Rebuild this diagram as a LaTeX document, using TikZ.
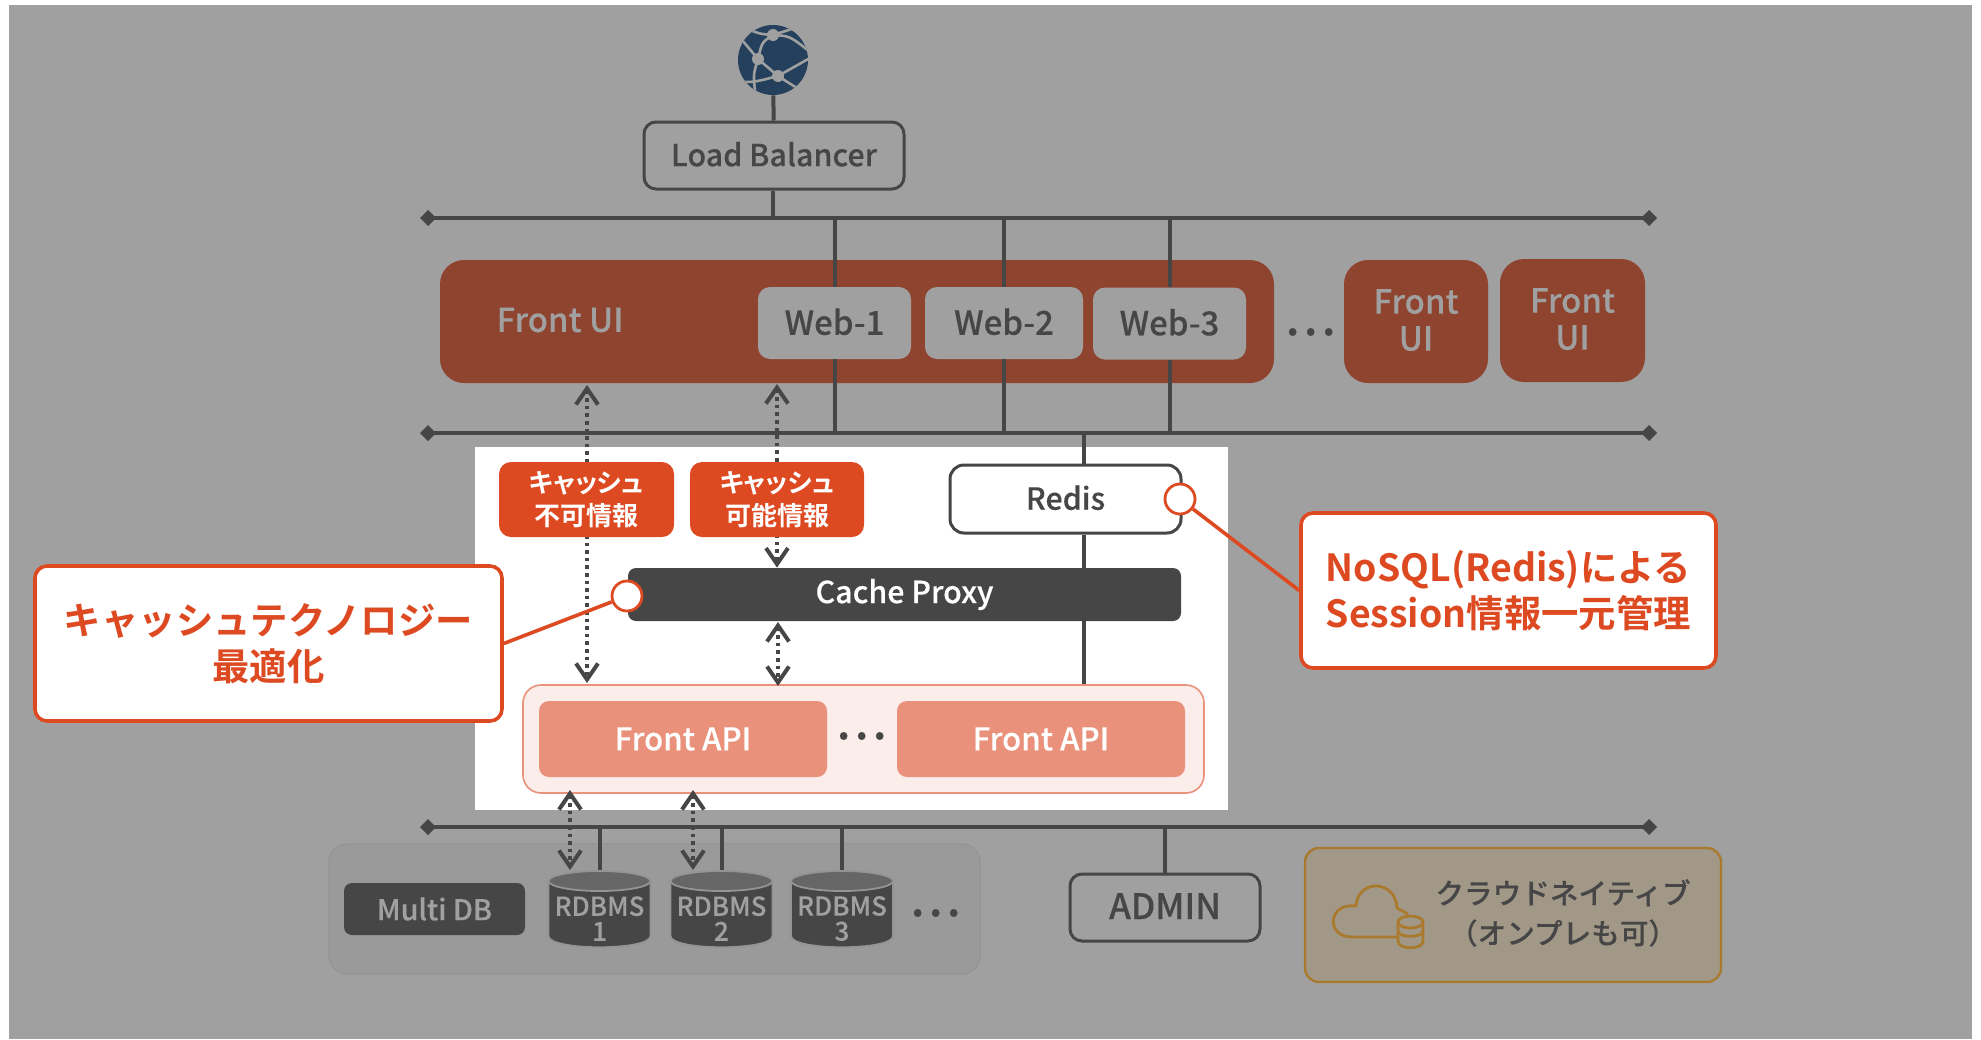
\documentclass[tikz,border=0pt]{standalone}
\usepackage{fontspec}
\setmainfont{Noto Sans CJK JP Medium}[BoldFont={Noto Sans CJK JP Bold},UprightFeatures={FakeBold=0.2}]
\newfontfamily\tagfont[RawFeature=+palt]{Noto Sans CJK JP Bold}
\usepackage{xcolor}
\usetikzlibrary{arrows.meta}
\definecolor{dim}{HTML}{A0A0A0}
\definecolor{ink}{HTML}{464646}
\definecolor{rust}{HTML}{8F4430}
\definecolor{flame}{HTML}{DD4A22}
\definecolor{salmon}{HTML}{E9917A}
\definecolor{blush}{HTML}{FBEDEA}
\definecolor{ochre}{HTML}{A97A2E}
\definecolor{navy}{HTML}{24405C}
\tikzset{
    pxbox/.style 2 args={minimum width=#1*0.5pt, minimum height=#2*0.5pt, inner sep=0pt, align=center},
    txt/.style={font=\fontsize{#1}{18.5}\selectfont},
    outlined/.style={draw=ink, line width=1.5pt, rounded corners=6pt, text=ink, txt=15.2, text depth=1.4pt},
    rustbox/.style={fill=rust, rounded corners=12pt, text=dim, txt=16.5, text depth=1.6pt},
    webbox/.style={fill=dim, rounded corners=6pt, text=ink, txt=16.5, text depth=1.4pt},
    cachetag/.style={fill=flame, rounded corners=6pt, text=white, font=\tagfont\fontsize{13}{16.3}\selectfont},
    apibox/.style={fill=salmon, rounded corners=5pt, text=white, txt=15.6},
    callout/.style={draw=flame, line width=1.8pt, fill=white, rounded corners=6pt, text=flame, font=\bfseries\fontsize{18.7}{23}\selectfont},
    spot/.style={circle, draw=flame, line width=1.4pt, fill=white, minimum size=15pt, inner sep=0pt},
    wire/.style={ink, line width=2pt},
    bus/.style={ink, line width=2pt, {Diamond[length=8pt,width=8pt]}-{Diamond[length=8pt,width=8pt]}},
    flow/.style={ink, line width=2pt, dash pattern=on 1.8pt off 2pt, {Straight Barb[length=8pt,width=11pt,line width=2pt]}-{Straight Barb[length=8pt,width=11pt,line width=2pt]}},
    more/.style={text=#1, font=\fontsize{24}{24}\selectfont, inner sep=0pt},
    dbbody/.style={draw=black!42, line width=0.9pt, fill=ink},
    dbtop/.style={draw=black!42, line width=0.9pt, fill=black!60},
    rdbmstext/.style={text=dim, align=center, inner sep=0pt, font=\fontsize{13}{12.5}\selectfont}
}
\begin{document}
\begin{tikzpicture}[x=0.5pt, y=-0.5pt]
    \useasboundingbox (0,0) rectangle (1981,1039);
    \fill[dim] (9,5) rectangle (1972,1039);

    % Globe
    \node[circle, fill=navy, minimum size=35pt, inner sep=0pt] (globe) at (773,60) {};
    \begin{scope}
        \clip (773,60) circle (35);
        \draw[dim, line width=1.3pt] (745,28) .. controls (760,34) .. (773,35)
            .. controls (790,36) .. (810,52);
        \draw[dim, line width=1.3pt] (773,35) .. controls (762,42) .. (758,59)
            .. controls (753,75) .. (756,98);
        \draw[dim, line width=1.3pt] (742,40) -- (758,59) -- (778,76) -- (810,58);
        \draw[dim, line width=1.3pt] (742,82) .. controls (755,82) .. (778,76) -- (800,90);
        \draw[dim, line width=1.3pt] (798,27) -- (773,35);
        \fill[dim] (773,35) circle (6) (758,59) circle (6) (778,76) circle (6);
    \end{scope}

    % Top of the network
    \node[outlined, pxbox={260}{67}] (balancer) at (774,155.5) {Load Balancer};
    \coordinate (bus1l) at (420,218);
    \coordinate (bus1r) at (1657,218);
    \coordinate (bus2l) at (420,433);
    \coordinate (bus2r) at (1657,433);
    \coordinate (bus3l) at (420,827);
    \coordinate (bus3r) at (1657,827);
    \draw[wire] (globe) -- (balancer);
    \draw[wire] (balancer.south -| globe) -- (globe |- bus1l);

    % Front UI row
    \node[rustbox, pxbox={834}{123}] (frontui) at (857,321.5) {};
    \node[text=dim, txt=16.5, inner sep=0pt] (frontuitext) at (560,320) {Front UI};
    \node[webbox, pxbox={153}{72}] (web1) at (834.5,323) {Web-1};
    \node[webbox, pxbox={158}{72}] (web2) at (1004,323) {Web-2};
    \node[webbox, pxbox={153}{72}] (web3) at (1169.5,323.5) {Web-3};
    \node[more=ink] (moreui) at (1310,332) {…};
    \node[rustbox, pxbox={144}{123}] (frontui2) at (1416,321.5) {Front\\UI};
    \node[rustbox, pxbox={145}{123}] (frontui3) at (1572.5,320.5) {Front\\UI};
    \foreach \w in {web1,web2,web3} {
        \draw[wire] (\w.north) -- (\w.north |- bus1l);
        \draw[wire] (\w.south) -- (\w.south |- bus2l);
    }
    \draw[bus] (bus1l) -- (bus1r);
    \draw[bus] (bus2l) -- (bus2r);

    % Cache area
    \fill[white] (475,447) rectangle (1228,810);
    \node[outlined, fill=white, pxbox={231}{68}, rounded corners=7pt] (redis) at (1065.5,499) {Redis};
    \node[fill=ink, rounded corners=4pt, text=white, txt=15.2, pxbox={553}{53}] (proxy) at (904.5,594.5) {Cache Proxy};
    \node[draw=salmon, line width=0.8pt, fill=blush, rounded corners=9pt, pxbox={681}{108}] (apigroup) at (863.5,739) {};
    \node[apibox, pxbox={288}{76}] (api1) at (683,739) {Front API};
    \node[apibox, pxbox={288}{76}] (api2) at (1041,739) {Front API};
    \node[more=ink] (moreapi) at (861,736) {…};

    \coordinate (sessionline) at (1084,433);
    \draw[wire] (sessionline) -- (sessionline |- redis.north);
    \draw[wire] (sessionline |- redis.south) -- (sessionline |- proxy.north);
    \draw[wire] (sessionline |- proxy.south) -- (sessionline |- apigroup.north);

    % Dotted flows
    \coordinate (flowa) at (587,385);
    \coordinate (flowb) at (777,384);
    \coordinate (flowc) at (778,622);
    \coordinate (flowd) at (570,790);
    \coordinate (flowe) at (693,790);
    \draw[flow] (flowa) -- (587,683);
    \draw[flow] (flowb) -- (flowb |- proxy.north);
    \draw[flow] (flowc) -- (778,686);

    \node[cachetag, pxbox={175}{75}] (nocache) at (586.5,499.5) {キャッシュ\\不可情報};
    \node[cachetag, pxbox={174}{75}] (cache) at (777,499.5) {キャッシュ\\可能情報};

    % Database row
    \node[draw=black!42, line width=0.7pt, fill=black!4!dim, rounded corners=9pt, pxbox={651}{130}] (dbgroup) at (654.5,909) {};
    \node[fill=ink, rounded corners=4pt, text=dim, txt=14.3, pxbox={181}{52}] (multidb) at (434.5,909) {Multi DB};
    \foreach \i/\x in {1/599.5,2/721.5,3/842} {
        \filldraw[dbbody] (\x-51,881) -- (\x-51,936) .. controls (\x-51,951) and (\x+51,951) .. (\x+51,936) -- (\x+51,881) -- cycle;
        \filldraw[dbtop] (\x,881) ellipse (51 and 10);
        \node[rdbmstext, pxbox={102}{76}] (db\i) at (\x,918.5) {RDBMS\\\i};
        \coordinate (dbtop\i) at (\x,870);
        \draw[wire] (dbtop\i |- bus3l) -- (dbtop\i);
    }
    \node[more=ink] (moredb) at (935,913) {…};
    \draw[bus] (bus3l) -- (bus3r);
    \draw[flow] (flowd) -- (570,870);
    \draw[flow] (flowe) -- (693,870);

    \node[outlined, txt=17.5, pxbox={190}{67}] (admin) at (1165,907.5) {ADMIN};
    \draw[wire] (admin.north) -- (admin.north |- bus3l);

    % Cloud note
    \node[draw=ochre, line width=1.2pt, fill=ochre!22!dim, rounded corners=7pt, pxbox={416}{134}] (cloudbox) at (1513,915) {};
    \node[text=ink, align=center, inner sep=0pt, font=\fontsize{14.3}{20}\selectfont] (cloudtext) at (1563,913) {クラウドネイティブ\\（オンプレも可）};
    \draw[ochre, line width=1.4pt, line join=round] (1397,937) -- (1352,937)
        .. controls (1325,937) and (1328,902) .. (1356,906)
        .. controls (1358,878) and (1396,880) .. (1397,908) -- (1408,914);
    \draw[ochre, line width=1.4pt] (1398,922) -- (1398,941)
        .. controls (1398,950) and (1423,950) .. (1423,941) -- (1423,922);
    \draw[ochre, line width=1.4pt] (1410.5,922) ellipse (12.5 and 6);
    \draw[ochre, line width=1.4pt] (1398,931) .. controls (1398,938) and (1423,938) .. (1423,931);

    % Callouts
    \node[spot] (proxyspot) at (627,596) {};
    \node[spot] (redisspot) at (1180,499) {};
    \node[callout, pxbox={467}{155}] (calloutcache) at (268.5,643.5) {キャッシュテクノロジー\\最適化};
    \node[callout, pxbox={415}{155}] (calloutredis) at (1508.5,590.5) {NoSQL(Redis)による\\Session情報一元管理};
    \draw[flame, line width=1.8pt] (calloutcache.east) -- (proxyspot);
    \draw[flame, line width=1.8pt] (calloutredis.west) -- (redisspot);
\end{tikzpicture}
\end{document}
